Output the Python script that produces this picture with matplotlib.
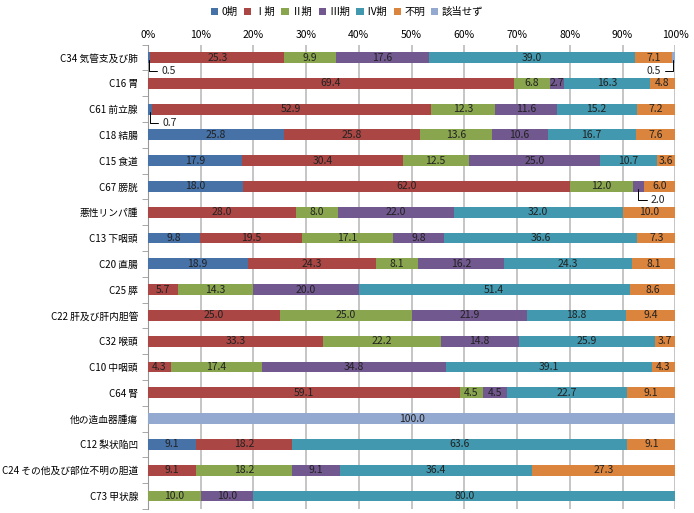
import numpy as np
import matplotlib.pyplot as plt

plt.rcParams['font.family'] = ['Noto Sans CJK JP', 'DejaVu Sans']

# --- data ---
categories = [
    "C34 気管支及び肺", "C16 胃", "C61 前立腺", "C18 結腸", "C15 食道", "C67 膀胱",
    "悪性リンパ腫", "C13 下咽頭", "C20 直腸", "C25 膵", "C22 肝及び肝内胆管", "C32 喉頭",
    "C10 中咽頭", "C64 腎", "他の造血器腫瘍", "C12 梨状陥凹",
    "C24 その他及び部位不明の胆道", "C73 甲状腺",
]
series_names = ["0期", "Ⅰ期", "Ⅱ期", "Ⅲ期", "Ⅳ期", "不明", "該当せず"]

stage0 = [0.5, 0, 0.7, 25.8, 17.9, 18.0, 0, 9.8, 18.9, 0, 0, 0, 0, 0, 0, 9.1, 0, 0]
stage1 = [25.3, 69.4, 52.9, 25.8, 30.4, 62.0, 28.0, 19.5, 24.3, 5.7, 25.0, 33.3, 4.3, 59.1, 0, 18.2, 9.1, 0]
stage2 = [9.9, 6.8, 12.3, 13.6, 12.5, 12.0, 8.0, 17.1, 8.1, 14.3, 25.0, 22.2, 17.4, 4.5, 0, 0, 18.2, 10.0]
stage3 = [17.6, 2.7, 11.6, 10.6, 25.0, 2.0, 22.0, 9.8, 16.2, 20.0, 21.9, 14.8, 34.8, 4.5, 0, 0, 9.1, 10.0]
stage4 = [39.0, 16.3, 15.2, 16.7, 10.7, 0, 32.0, 36.6, 24.3, 51.4, 18.8, 25.9, 39.1, 22.7, 0, 63.6, 36.4, 80.0]
unknown = [7.1, 4.8, 7.2, 7.6, 3.6, 6.0, 10.0, 7.3, 8.1, 8.6, 9.4, 3.7, 4.3, 9.1, 0, 9.1, 27.3, 0]
not_applicable = [0.5, 0, 0, 0, 0, 0, 0, 0, 0, 0, 0, 0, 0, 0, 100.0, 0, 0, 0]

colors = ["#4672A8", "#AA4644", "#89A54E", "#71588F", "#4198AF", "#DB843D", "#93A9CF"]

# small segments labelled with a leader line instead of inside the bar
callouts = {(0, 0), (0, 6), (2, 0), (5, 3)}

all_series = [stage0, stage1, stage2, stage3, stage4, unknown, not_applicable]

fig = plt.figure(figsize=(6.94, 5.13), dpi=100)
ax = fig.add_axes([0.213, 0.008, 0.76, 0.905])

y = np.arange(len(categories))
left = np.zeros(len(categories))
for s, (name, vals) in enumerate(zip(series_names, all_series)):
    vals = np.array(vals)
    ax.barh(y, vals, left=left, height=0.42, color=colors[s], label=name,
            edgecolor='none', zorder=3)
    for i, v in enumerate(vals):
        if v <= 0:
            continue
        if (i, s) in callouts:
            continue
        ax.text(left[i] + v / 2, i, f"{v:.1f}", ha='center', va='center',
                fontsize=7.5, color='#222222', zorder=4)
    left += vals

# leader-line labels
cum = np.cumsum(np.array(all_series), axis=0)
def callout(i, s, dx, dy, ha):
    xmid = cum[s][i] - all_series[s][i] / 2
    v = all_series[s][i]
    ax.annotate(f"{v:.1f}", xy=(xmid, i + 0.1), xytext=(dx, dy), textcoords='offset points',
                ha=ha, va='center', fontsize=7.5, color='#222222', zorder=5,
                arrowprops=dict(arrowstyle='-', color='black', lw=0.7, shrinkA=1, shrinkB=0,
                                connectionstyle='angle,angleA=0,angleB=90,rad=0'))

callout(0, 0, 9, -8, 'left')
callout(2, 0, 9, -8, 'left')
callout(0, 6, -9, -8, 'right')
callout(5, 3, 9, -8, 'left')

ax.set_xlim(0, 100)
ax.set_ylim(len(categories) - 0.5, -0.5)
ax.xaxis.tick_top()
ax.set_xticks(np.arange(0, 101, 10))
ax.set_xticklabels([f"{t}%" for t in range(0, 101, 10)], fontsize=7.5)
ax.tick_params(axis='x', length=0, pad=3)
ax.set_yticks(y)
ax.set_yticklabels(categories, fontsize=7)
ax.set_yticks(np.arange(-0.5, len(categories), 1), minor=True)
ax.tick_params(axis='y', which='major', length=0, pad=7)
ax.tick_params(axis='y', which='minor', length=4, color='#999999')
ax.grid(axis='x', color='#BBBBBB', lw=1.2, zorder=0)
for sp in ['top', 'bottom', 'right']:
    ax.spines[sp].set_visible(False)
ax.spines['left'].set_color('#999999')

fig.legend(*ax.get_legend_handles_labels(), loc='center', bbox_to_anchor=(0.5, 0.977),
           ncol=7, frameon=False, fontsize=7.5, handlelength=0.7, handleheight=0.7,
           handletextpad=0.3, columnspacing=0.6)

plt.savefig("out.png", dpi=100)
